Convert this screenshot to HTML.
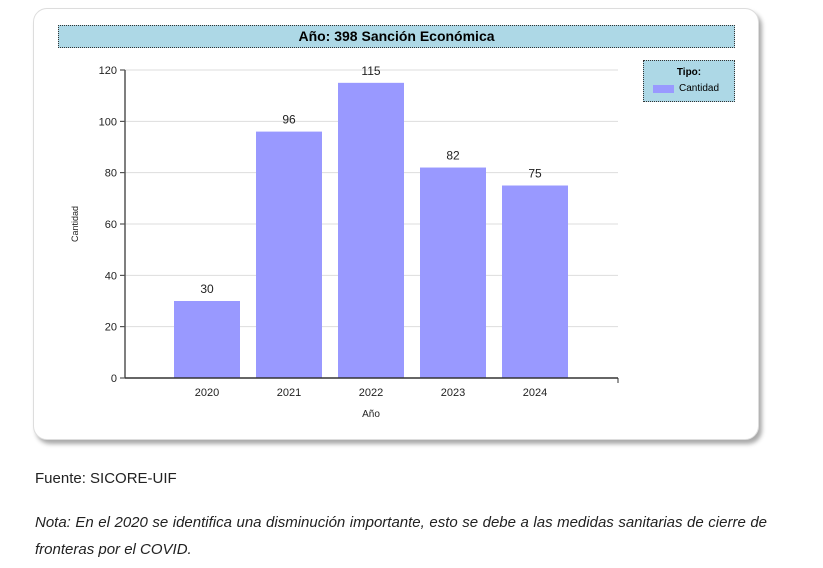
<!DOCTYPE html>
<html><head><meta charset="utf-8"><style>
body{margin:0;width:823px;height:568px;background:#fff;font-family:"Liberation Sans",sans-serif;position:relative;overflow:hidden}
#panel{position:absolute;left:33px;top:8px;width:724px;height:430px;border:1px solid #ddd;border-radius:14px;box-shadow:3px 4px 4px #aaa;background:#fff}
#title{position:absolute;left:58px;top:25px;width:675px;height:21px;background:#add8e6;border:1px dotted #333;text-align:center;font-weight:bold;font-size:14px;line-height:21px}
#legend{position:absolute;left:643px;top:60px;width:90px;height:40px;background:#add8e6;border:1px dotted #333;font-size:10px}
.t{position:absolute;left:0;right:0;top:6px;text-align:center;font-weight:bold}
.sw{position:absolute;left:9px;top:24px;width:21px;height:8px;background:#9999ff}
.lt{position:absolute;left:35px;top:22px}
.p{position:absolute;left:35px;font-size:15px;color:#222}
</style></head><body>
<div id="panel"></div>
<div id="title">Año: 398 Sanción Económica</div>
<div id="legend"><div class="t">Tipo:</div><div class="sw"></div><div class="lt">Cantidad</div></div>
<svg id="chart" width="823" height="568" style="position:absolute;left:0;top:0"></svg>
<div class="p" style="top:470px">Fuente: SICORE-UIF</div>
<div class="p" style="top:509px;width:732px;text-align:justify;font-style:italic;line-height:27px">Nota: En el 2020 se identifica una disminución importante, esto se debe a las medidas sanitarias de cierre de fronteras por el COVID.</div>
<script>
const categories=["2020","2021","2022","2023","2024"];
const values=[30,96,115,82,75];
const ticks=[0,20,40,60,80,100,120];
const svg=document.getElementById('chart');
const NS="http://www.w3.org/2000/svg";
const x0=125,x1=618,y0=378,yTop=70,maxV=120,band=82;
const y=v=>y0-(y0-yTop)*v/maxV;
const xc=i=>x0+band*(i+1);
function mk(t,a,txt){const e=document.createElementNS(NS,t);for(const k in a)e.setAttribute(k,a[k]);if(txt!=null)e.textContent=txt;svg.appendChild(e);return e;}
ticks.forEach(t=>{
 if(t>0){const g=mk('line',{x1:x0,x2:x1,y1:y(t),y2:y(t),stroke:'#ddd'});
 
 }
 const k=mk('line',{x1:x0-5,x2:x0,y1:y(t),y2:y(t),stroke:'#333'});
 
 
 const l=mk('text',{x:x0-8,y:y(t)+4,'text-anchor':'end','font-size':11,fill:'#222'},t);
 
 
});
values.forEach((v,i)=>{
 const b=mk('rect',{x:xc(i)-33,y:y(v),width:66,height:y0-y(v),fill:'#9999ff'});
 
 
 const vl=mk('text',{x:xc(i),y:y(v)-8,'text-anchor':'middle','font-size':12,fill:'#222'},v);
 
 
 const xl=mk('text',{x:xc(i),y:396,'text-anchor':'middle','font-size':11,fill:'#222'},categories[i]);
 
 
});
const ya=mk('line',{x1:x0,x2:x0,y1:yTop,y2:y0,stroke:'#555','stroke-width':1.5});


const xa=mk('line',{x1:x0,x2:x1,y1:y0,y2:y0,stroke:'#333','stroke-width':1.5});


const xe=mk('line',{x1:x1,x2:x1,y1:y0,y2:y0+5,stroke:'#333'});


const xt=mk('text',{x:371,y:417,'text-anchor':'middle','font-size':10,fill:'#222'},'Año');


const yt=mk('text',{x:0,y:0,'text-anchor':'middle','font-size':9,fill:'#222',transform:'translate(78,224) rotate(-90)'},'Cantidad');


</script>
</body></html>
